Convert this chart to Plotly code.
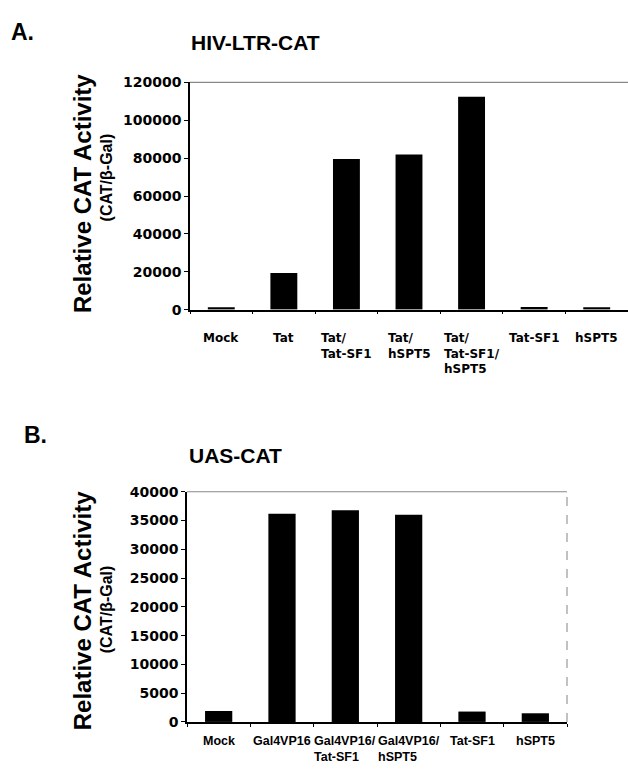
import plotly.graph_objects as go

W, H = 628, 773

# ---- data ----
a_categories = ["Mock", "Tat", "Tat/Tat-SF1", "Tat/hSPT5", "Tat/Tat-SF1/hSPT5", "Tat-SF1", "hSPT5"]
a_values = [1200, 19300, 79500, 82000, 112500, 1400, 1300]
a_ticks = [0, 20000, 40000, 60000, 80000, 100000, 120000]

b_categories = ["Mock", "Gal4VP16", "Gal4VP16/Tat-SF1", "Gal4VP16/hSPT5", "Tat-SF1", "hSPT5"]
b_values = [1900, 36200, 36800, 36000, 1800, 1500]
b_ticks = [0, 5000, 10000, 15000, 20000, 25000, 30000, 35000, 40000]

y_title = "Relative CAT Activity"
y_subtitle = "(CAT/β-Gal)"

SANS = "Liberation Sans, Arial, sans-serif"
WIDE = "DejaVu Sans, sans-serif"


def px(x):
    return x / W


def py(y):
    return 1 - y / H


fig = go.Figure()
fig.add_trace(go.Bar(x=a_categories, y=a_values, marker=dict(color="black", line=dict(width=0)),
                     width=0.43, xaxis="x", yaxis="y", showlegend=False))
fig.add_trace(go.Bar(x=b_categories, y=b_values, marker=dict(color="black", line=dict(width=0)),
                     width=0.43, xaxis="x2", yaxis="y2", showlegend=False))

xcommon = dict(showline=True, linecolor="black", linewidth=1.5, ticks="outside", ticklen=3,
               tickcolor="black", tickson="boundaries", showticklabels=False, showgrid=False,
               zeroline=False, fixedrange=True)
ycommon = dict(showline=True, linecolor="black", linewidth=1.5, ticks="outside", ticklen=4,
               tickcolor="black", showgrid=False, zeroline=False,
               tickfont=dict(family=WIDE, size=14, color="black", weight="bold"))

fig.update_layout(
    width=W, height=H, margin=dict(l=0, r=0, t=0, b=0),
    paper_bgcolor="white", plot_bgcolor="white",
    xaxis=dict(domain=[px(190), 1.0], range=[-0.5, 6.5], anchor="y", **xcommon),
    yaxis=dict(domain=[py(308), py(76)], range=[0, 120000], tickvals=a_ticks,
               ticktext=[str(v) for v in a_ticks], anchor="x", **ycommon),
    xaxis2=dict(domain=[px(187), px(567)], range=[-0.5, 5.5], anchor="y2", **xcommon),
    yaxis2=dict(domain=[py(729), py(494)], range=[0, 40000], tickvals=b_ticks,
                ticktext=[str(v) for v in b_ticks], anchor="x2", **ycommon),
)

# frame lines (top / right)
fig.add_shape(type="line", xref="x domain", yref="y domain", x0=0, x1=1, y0=1, y1=1,
              line=dict(color="#888", width=1.2))
fig.add_shape(type="line", xref="x2 domain", yref="y2 domain", x0=0, x1=1, y0=1, y1=1,
              line=dict(color="#888", width=1.2))
fig.add_shape(type="line", xref="x2 domain", yref="y2 domain", x0=1, x1=1, y0=0, y1=1,
              line=dict(color="#999", width=1.2, dash="dash"))

ann = []


def text(x, y, s, size, family=SANS, angle=0, xa="left", ya="middle"):
    ann.append(dict(x=px(x), y=py(y), xref="paper", yref="paper", text=s, showarrow=False,
                    textangle=angle, xanchor=xa, yanchor=ya,
                    font=dict(family=family, size=size, color="black", weight="bold")))


text(9, 24, "A.", 23)
text(189, 35, "HIV-LTR-CAT", 21)
text(22, 436, "B.", 23)
text(187, 457, "UAS-CAT", 21)

text(82, 190, y_title, 24, angle=-90, xa="center")
text(106, 173, y_subtitle, 16, angle=-90, xa="center")
text(82, 616, y_title, 24, angle=-90, xa="center")
text(106, 614, y_subtitle, 16, angle=-90, xa="center")

for c in a_categories:
    ann.append(dict(x=c, y=0, xref="x", yref="y", text=c.replace("/", "/<br>"), showarrow=False,
                    xanchor="center", yanchor="top", yshift=-19, align="left",
                    font=dict(family=WIDE, size=12, color="black", weight="bold")))
for c in b_categories:
    ann.append(dict(x=c, y=0, xref="x2", yref="y2", text=c.replace("/", "/<br>"), showarrow=False,
                    xanchor="center", yanchor="top", yshift=-10, align="left",
                    font=dict(family=SANS, size=12.5, color="black", weight="bold")))

fig.update_layout(annotations=ann)
fig.write_html("out.html", config={"displayModeBar": False},
               post_script="document.body.style.margin='0';")
